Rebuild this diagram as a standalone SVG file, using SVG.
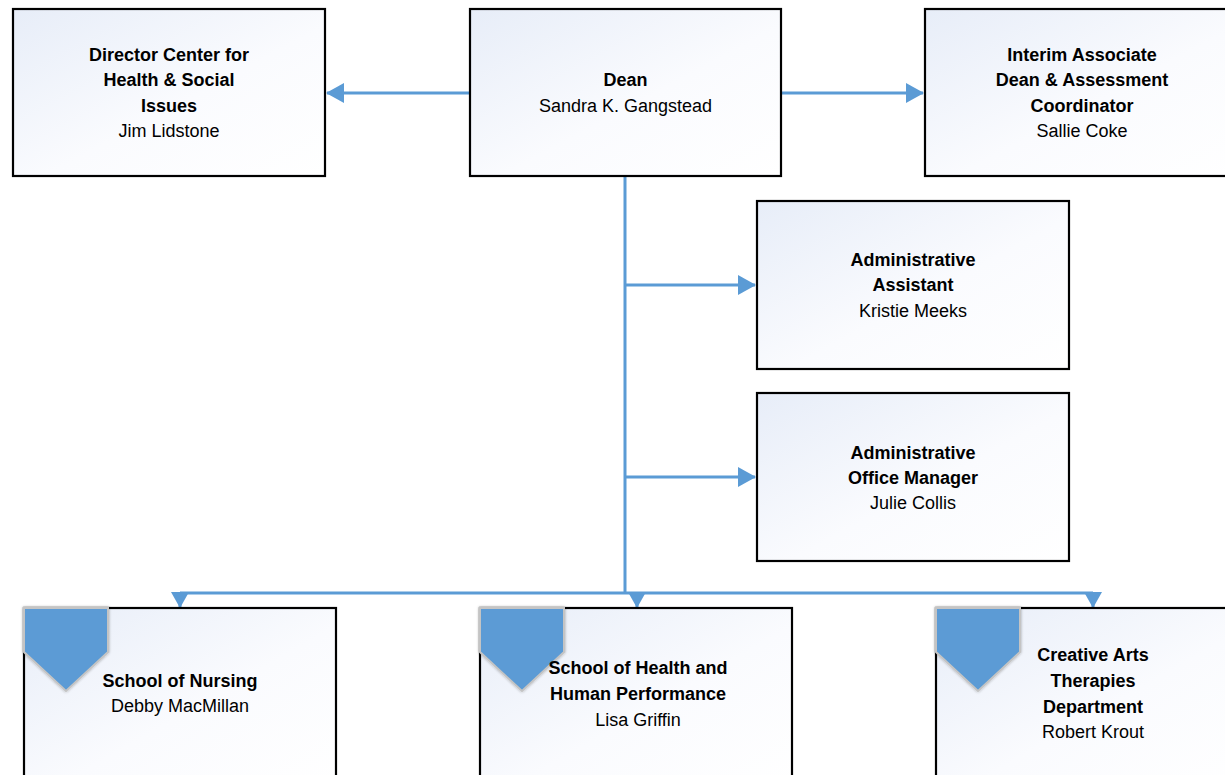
<svg xmlns="http://www.w3.org/2000/svg" width="1225" height="775" viewBox="0 0 1225 775">
<defs>
<linearGradient id="fillg" x1="0" y1="0" x2="1" y2="1">
<stop offset="0" stop-color="#e7edf8"/>
<stop offset="0.55" stop-color="#fafbfe"/>
<stop offset="1" stop-color="#ffffff"/>
</linearGradient>
<marker id="ah" markerUnits="userSpaceOnUse" markerWidth="18" markerHeight="20" refX="17" refY="10" orient="auto">
<path d="M0,0 L18,10 L0,20 z" fill="#5b9bd5"/>
</marker>
<marker id="ahd" markerUnits="userSpaceOnUse" markerWidth="16" markerHeight="18" refX="15" refY="9" orient="auto">
<path d="M0,0 L16,9 L0,18 z" fill="#5b9bd5"/>
</marker>
<filter id="glow" x="-20%" y="-20%" width="140%" height="140%">
<feGaussianBlur in="SourceAlpha" stdDeviation="1.5"/>
<feComponentTransfer><feFuncA type="linear" slope="0.35"/></feComponentTransfer>
<feMerge><feMergeNode/><feMergeNode in="SourceGraphic"/></feMerge>
</filter>
</defs>
<style>
.box{fill:url(#fillg);stroke:#000;stroke-width:2.2}
.tab{fill:#5b9bd5;stroke:#c4c4c4;stroke-width:2;filter:url(#glow)}
.conn{fill:none;stroke:#5b9bd5;stroke-width:3}
text{font-family:"Liberation Sans",Arial,sans-serif;font-size:18px;fill:#000;text-anchor:middle}
.b{font-weight:bold}
</style>
<rect width="1225" height="775" fill="#fff"/>
<g id="connectors">
<path class="conn" d="M470,93 H327" marker-end="url(#ah)"/>
<path class="conn" d="M781,93 H923" marker-end="url(#ah)"/>
<path class="conn" d="M625,177 V593"/>
<path class="conn" d="M625,285 H755" marker-end="url(#ah)"/>
<path class="conn" d="M625,477 H755" marker-end="url(#ah)"/>
<path class="conn" d="M180,593 H1093"/>
<path class="conn" d="M180,593 V607" marker-end="url(#ahd)"/>
<path class="conn" d="M637,593 V607" marker-end="url(#ahd)"/>
<path class="conn" d="M1093,593 V607" marker-end="url(#ahd)"/>
</g>
<g id="director">
<rect class="box" x="13" y="9" width="312" height="167"/>
<text x="169" y="61" class="b">Director Center for</text>
<text x="169" y="86" class="b">Health &amp; Social</text>
<text x="169" y="112" class="b">Issues</text>
<text x="169" y="137">Jim Lidstone</text>
</g>
<g id="dean">
<rect class="box" x="470" y="9" width="311" height="167"/>
<text x="625.5" y="86" class="b">Dean</text>
<text x="625.5" y="112">Sandra K. Gangstead</text>
</g>
<g id="interim">
<rect class="box" x="925" y="9" width="313" height="167"/>
<text x="1082" y="61" class="b">Interim Associate</text>
<text x="1082" y="86" class="b">Dean &amp; Assessment</text>
<text x="1082" y="112" class="b">Coordinator</text>
<text x="1082" y="137">Sallie Coke</text>
</g>
<g id="admin-assistant">
<rect class="box" x="757" y="201" width="312" height="168"/>
<text x="913" y="266" class="b">Administrative</text>
<text x="913" y="291" class="b">Assistant</text>
<text x="913" y="317">Kristie Meeks</text>
</g>
<g id="office-manager">
<rect class="box" x="757" y="393" width="312" height="168"/>
<text x="913" y="459" class="b">Administrative</text>
<text x="913" y="484" class="b">Office Manager</text>
<text x="913" y="509">Julie Collis</text>
</g>
<g id="nursing">
<rect class="box" x="24" y="608" width="312" height="180"/>
<polygon class="tab" points="24,608 108,608 108,652 66,691 24,652"/>
<text x="180" y="687" class="b">School of Nursing</text>
<text x="180" y="712">Debby MacMillan</text>
</g>
<g id="health">
<rect class="box" x="480" y="608" width="312" height="180"/>
<polygon class="tab" points="480,608 564,608 564,652 522,691 480,652"/>
<text x="638" y="674" class="b">School of Health and</text>
<text x="638" y="700" class="b">Human Performance</text>
<text x="638" y="726">Lisa Griffin</text>
</g>
<g id="creative">
<rect class="box" x="936" y="608" width="312" height="180"/>
<polygon class="tab" points="936,608 1020,608 1020,652 978,691 936,652"/>
<text x="1093" y="661" class="b">Creative Arts</text>
<text x="1093" y="687" class="b">Therapies</text>
<text x="1093" y="713" class="b">Department</text>
<text x="1093" y="738">Robert Krout</text>
</g>
</svg>
